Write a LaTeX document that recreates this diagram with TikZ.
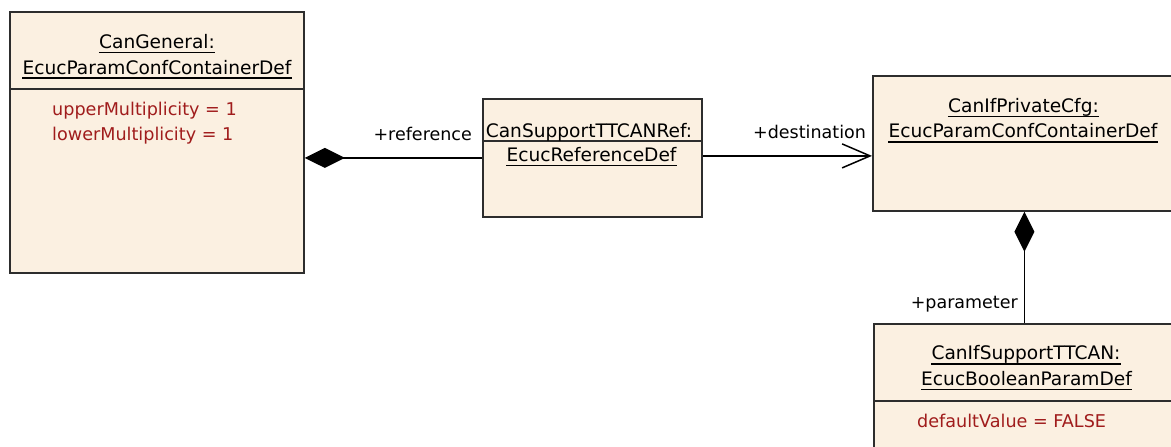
\documentclass[tikz,border=0pt]{standalone}
\usepackage{fontspec}
\setmainfont{DejaVu Sans}
\usetikzlibrary{arrows.meta}
\definecolor{boxfill}{RGB}{251,240,225}
\definecolor{boxline}{RGB}{45,45,45}
\definecolor{attr}{RGB}{160,28,28}
\tikzset{
  umlbox/.style={draw=boxline, line width=1.8pt, fill=boxfill, anchor=north west, inner sep=0pt},
  ttl/.style={inner sep=0pt, anchor=base, font=\fontsize{18.6}{21}\selectfont},
  attrtxt/.style={inner sep=0pt, anchor=base west, text=attr, font=\fontsize{17.6}{20}\selectfont},
  lbl/.style={inner sep=0pt, font=\fontsize{17.5}{20}\selectfont},
  ul/.style={line width=1.3pt, black},
  sepline/.style={draw=boxline, line width=1.6pt},
  comp/.style={line width=1.5pt, {Diamond[length=40pt,width=20pt]}-},
  nav/.style={line width=1.5pt, -{Straight Barb[length=28pt,width=24pt,line width=1.5pt]}},
}
\begin{document}
\begin{tikzpicture}[x=1pt,y=-1pt]
\clip (0,0) rectangle (1171,447);
\useasboundingbox (0,0) rectangle (1171,447);
% boxes
\node[umlbox, minimum width=294pt, minimum height=261pt] (g) at (9,11) {};
\node[umlbox, minimum width=219pt, minimum height=118pt] (r) at (482,98) {};
\node[umlbox, minimum width=303pt, minimum height=135pt] (p) at (872,75) {};
\node[umlbox, minimum width=303pt, minimum height=140pt] (q) at (873,323) {};
% separators
\draw[sepline] (g.west |- 0,89) -- (g.east |- 0,89);
\draw[sepline] (r.west |- 0,141) -- (r.east |- 0,141);
\draw[sepline] (q.west |- 0,401) -- (q.east |- 0,401);
% CanGeneral
\node[ttl] (g1) at (157,48) {CanGeneral:};
\node[ttl] (g2) at (157,74) {EcucParamConfContainerDef};
\draw[ul] ([yshift=-4.5pt]g1.base west) -- ([yshift=-4.5pt]g1.base east);
\draw[ul] ([yshift=-4pt]g2.base west) -- ([yshift=-4pt]g2.base east);
\node[attrtxt] (ga) at (52,115) {upperMultiplicity = 1};
\node[attrtxt] (gb) at (52,140) {lowerMultiplicity = 1};
% CanSupportTTCANRef
\node[ttl] (r1) at (589,137) {CanSupportTTCANRef:};
\node[ttl] (r2) at (591.5,161) {EcucReferenceDef};
\draw[ul] ([yshift=-4.3pt]r2.base west) -- ([yshift=-4.3pt]r2.base east);
% CanIfPrivateCfg
\node[ttl] (p1) at (1023.5,112) {CanIfPrivateCfg:};
\node[ttl] (p2) at (1023,137.5) {EcucParamConfContainerDef};
\draw[ul] ([yshift=-4.3pt]p1.base west) -- ([yshift=-4.3pt]p1.base east);
\draw[ul] ([yshift=-4.5pt]p2.base west) -- ([yshift=-4.5pt]p2.base east);
% CanIfSupportTTCAN
\node[ttl] (q1) at (1026,359.5) {CanIfSupportTTCAN:};
\node[ttl] (q2) at (1026.5,385) {EcucBooleanParamDef};
\draw[ul] ([yshift=-4.5pt]q1.base west) -- ([yshift=-4.5pt]q1.base east);
\draw[ul] ([yshift=-4.3pt]q2.base west) -- ([yshift=-4.3pt]q2.base east);
\node[attrtxt] (qa) at (917,427.5) {defaultValue = FALSE};
% connectors
\draw[comp] (g.east |- r.west) -- (r.west);
\node[lbl, anchor=base east] (lref) at (472,140) {+reference};
\draw[nav] ([yshift=2pt]r.east) -- ([yshift=2pt]r.east -| p.west);
\node[lbl, anchor=base west] (ldest) at (753,138.3) {+destination};
\draw[comp] (p.south) -- (p.south |- q.north);
\node[lbl, anchor=base east] (lpar) at (1018,308.3) {+parameter};
\end{tikzpicture}
\end{document}
